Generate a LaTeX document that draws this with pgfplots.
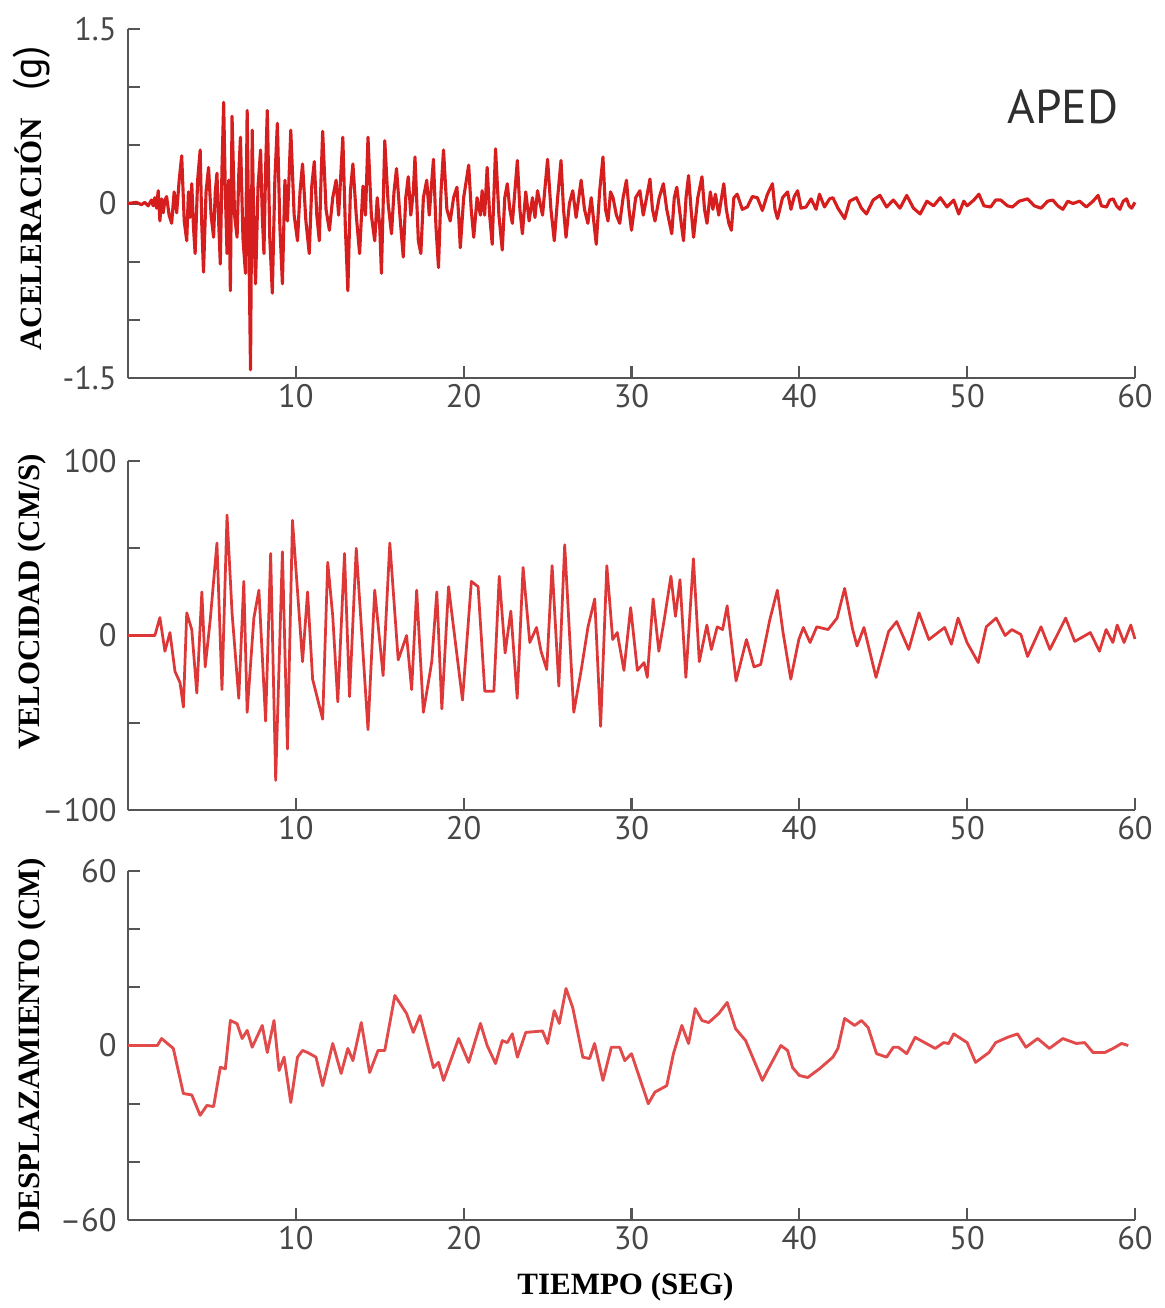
\documentclass[border=0pt]{standalone}
\usepackage{pgfplots}
\pgfplotsset{compat=1.18}
\usepackage{fontspec}
\setmainfont{Liberation Serif}
\setsansfont{PT Sans}
\definecolor{axgray}{RGB}{85,85,85}
\definecolor{trace}{RGB}{215,30,30}
\definecolor{trace2}{RGB}{222,55,55}
\definecolor{trace3}{RGB}{226,75,75}
\pgfplotsset{
  panel/.style={
    scale only axis, width=402.8pt, height=139.6pt,
    anchor=north west,
    xmin=0, xmax=60,
    axis lines=left, axis line style={-, axgray, line width=1pt},
    xtick={10,20,30,40,50,60}, xticklabels={10,20,30,40,50,60},
    tick style={axgray, line width=0.9pt},
    tick align=inside, major tick length=5pt,
    ticklabel style={font=\sffamily\fontsize{13}{14}\selectfont, text=black!72},
    xticklabel style={yshift=1pt},
    yticklabel style={xshift=-1pt},
    clip=false,
  },
}
\begin{document}
\begin{tikzpicture}
\useasboundingbox (-51.2pt,-511.6pt) rectangle (414.8pt,11.6pt);
% ---------------- Acceleration ----------------
\begin{axis}[panel, at={(0pt,0pt)},
  ymin=-1.5, ymax=1.5,
  ytick={-1.5,-1,-0.5,0,0.5,1,1.5}, yticklabels={-1.5,,,0,,,1.5},
  ylabel={\bfseries\fontsize{12.4}{14}\selectfont ACELERACIÓN\hspace{11pt}{\sffamily\mdseries\fontsize{16}{16}\selectfont (g)}},
  ylabel style={at={(axis description cs:-0.0953,0.514)}, anchor=center, rotate=0},
]
\addplot[trace, line width=1.25pt, line join=round] coordinates {
(0,0) (0.5,0.01) (0.8,-0.01) (1.0,0.01) (1.2,-0.02) (1.4,0.03) (1.5,-0.02) (1.6,0.05) (1.7,-0.04)
(1.8,0.11) (1.9,-0.15) (2.0,0.04) (2.1,-0.08) (2.2,0.03) (2.3,0.06) (2.45,-0.10) (2.6,-0.17)
(2.75,0.10) (2.9,-0.08) (3.05,0.20) (3.2,0.41) (3.35,-0.15) (3.5,-0.32) (3.6,0.10) (3.7,-0.12)
(3.8,0.17) (3.9,-0.20) (4.0,-0.43) (4.15,0.20) (4.3,0.46) (4.4,-0.20) (4.5,-0.59) (4.65,0.10)
(4.8,0.31) (4.95,-0.10) (5.1,-0.29) (5.2,0.10) (5.3,0.26) (5.4,-0.15) (5.5,-0.52) (5.6,0.30)
(5.7,0.87) (5.8,0.10) (5.9,-0.43) (6.0,0.20) (6.1,-0.75) (6.2,0.75) (6.35,-0.10) (6.5,-0.29)
(6.6,0.25) (6.7,0.57) (6.85,-0.30) (7.0,-0.60) (7.1,0.80) (7.2,-0.30) (7.3,-1.43) (7.4,0.63)
(7.5,-0.20) (7.6,-0.69) (7.75,0.15) (7.9,0.46) (8.0,-0.10) (8.1,-0.43) (8.2,0.30) (8.3,0.80)
(8.45,-0.30) (8.6,-0.77) (8.75,0.20) (8.9,0.69) (9.05,-0.20) (9.2,-0.69) (9.35,0.20) (9.5,-0.15)
(9.7,0.63) (9.9,-0.10) (10.1,-0.32) (10.25,0.10) (10.4,0.34) (10.6,-0.15) (10.8,-0.43) (10.95,0.15)
(11.1,0.36) (11.25,-0.10) (11.4,-0.32) (11.5,0.20) (11.6,0.62) (11.8,-0.05) (12.0,-0.23) (12.2,0.05)
(12.4,0.20) (12.55,-0.10) (12.8,0.57) (12.95,-0.20) (13.1,-0.75) (13.25,0.10) (13.4,0.34) (13.6,-0.10)
(13.8,-0.43) (14.0,0.15) (14.15,-0.10) (14.3,0.57) (14.5,-0.10) (14.7,-0.32) (14.85,0.05) (15.0,-0.20)
(15.1,-0.60) (15.3,0.54) (15.5,0.00) (15.7,-0.26) (15.85,0.10) (16.0,0.30) (16.2,-0.10) (16.4,-0.46)
(16.55,0.05) (16.7,0.23) (16.85,-0.10) (17.0,0.10) (17.1,0.40) (17.3,-0.32) (17.45,-0.43) (17.6,0.05)
(17.8,0.20) (17.95,-0.10) (18.2,0.38) (18.35,-0.20) (18.5,-0.55) (18.65,0.10) (18.8,0.46) (19.0,-0.05)
(19.2,-0.15) (19.4,0.05) (19.6,0.14) (19.7,-0.10) (19.8,-0.38) (20.0,0.05) (20.3,0.33) (20.45,-0.05)
(20.6,-0.29) (20.8,0.05) (21.0,-0.10) (21.1,0.11) (21.25,-0.10) (21.4,0.31) (21.55,-0.10) (21.7,-0.35)
(21.9,0.47) (22.1,-0.10) (22.3,-0.40) (22.45,0.05) (22.6,0.17) (22.75,-0.05) (22.9,-0.17) (23.05,0.10)
(23.2,0.37) (23.35,-0.05) (23.5,-0.26) (23.7,0.10) (23.9,-0.15) (24.1,0.05) (24.25,-0.12) (24.4,0.11)
(24.7,-0.10) (25.0,0.38) (25.2,-0.05) (25.4,-0.32) (25.6,0.05) (25.8,0.37) (25.95,-0.05) (26.1,-0.29)
(26.3,0.00) (26.5,0.11) (26.7,-0.12) (27.0,0.20) (27.2,-0.05) (27.4,-0.17) (27.6,0.05) (27.9,-0.35)
(28.1,0.10) (28.3,0.40) (28.45,-0.05) (28.6,-0.15) (28.75,0.10) (28.9,0.05) (29.1,-0.10) (29.3,-0.17)
(29.5,0.05) (29.7,0.20) (29.85,-0.05) (30.0,-0.23) (30.25,0.05) (30.5,0.11) (30.7,-0.10) (30.9,0.05)
(31.1,0.21) (31.25,-0.05) (31.4,-0.15) (31.65,0.05) (31.9,0.17) (32.1,-0.05) (32.4,-0.26) (32.55,0.05)
(32.7,0.14) (32.9,-0.10) (33.1,-0.32) (33.25,0.05) (33.4,0.24) (33.55,-0.05) (33.7,-0.29) (33.95,0.05)
(34.2,0.23) (34.35,-0.05) (34.5,-0.17) (34.7,0.10) (34.85,-0.05) (35.0,0.08) (35.2,-0.10) (35.5,0.17)
(35.65,-0.05) (35.8,-0.17) (35.95,-0.23) (36.1,0.05) (36.3,0.08) (36.6,-0.05) (36.9,-0.03) (37.2,0.06)
(37.5,0.05) (37.8,-0.06) (38.1,0.08) (38.4,0.17) (38.55,-0.05) (38.7,-0.13) (39.0,0.05) (39.3,0.10)
(39.5,-0.05) (39.7,0.06) (39.9,0.11) (40.1,-0.04) (40.4,-0.03) (40.7,0.04) (41.0,-0.05) (41.2,0.08)
(41.5,-0.03) (41.8,0.04) (42.0,0.05) (42.3,-0.04) (42.7,-0.13) (43.0,0.02) (43.4,0.05) (43.7,-0.04)
(44.0,-0.09) (44.4,0.03) (44.8,0.07) (45.2,-0.03) (45.6,0.03) (46.0,-0.04) (46.4,0.07) (46.8,-0.04)
(47.2,-0.09) (47.6,0.02) (48.0,-0.02) (48.4,0.05) (48.8,-0.03) (49.2,0.03) (49.5,-0.09) (49.8,0.02)
(50.0,-0.02) (50.4,0.03) (50.7,0.08) (51.0,-0.02) (51.4,-0.03) (51.7,0.03) (52.0,0.03) (52.4,-0.02)
(52.7,-0.03) (53.1,0.02) (53.6,0.04) (54.0,-0.02) (54.4,-0.04) (54.8,0.02) (55.1,0.03) (55.4,-0.02)
(55.7,-0.05) (56.0,0.02) (56.3,0.00) (56.7,0.02) (57.1,-0.03) (57.5,0.02) (57.8,0.07) (58.0,-0.02)
(58.3,-0.03) (58.5,0.03) (58.7,0.04) (58.9,-0.02) (59.1,-0.05) (59.3,0.02) (59.5,0.04) (59.65,-0.02)
(59.8,-0.04) (60.0,0.01)
};
\node[font=\sffamily\fontsize{19}{20}\selectfont, text=black!82] at (axis cs:55.7,0.83) {APED};
\end{axis}
% ---------------- Velocity ----------------
\begin{axis}[panel, at={(0pt,-172.8pt)},
  ymin=-100, ymax=100,
  ytick={-100,-50,0,50,100}, yticklabels={–100,,0,,100},
  ylabel={\bfseries\fontsize{12.4}{14}\selectfont VELOCIDAD (CM/S)},
  ylabel style={at={(axis description cs:-0.0953,0.596)}, anchor=center},
]
\addplot[trace2, line width=1.1pt, line join=round] coordinates {
(0,0) (1.6,0) (1.9,10.3) (2.2,-9) (2.5,1.7) (2.8,-20.6) (3.1,-27) (3.3,-41) (3.5,13) (3.8,3.4)
(4.1,-33) (4.4,25) (4.6,-18) (4.9,9) (5.3,53) (5.6,-31) (5.9,69) (6.2,13) (6.6,-36) (6.9,31)
(7.1,-44) (7.5,10) (7.8,26) (8.2,-49) (8.5,47) (8.8,-83) (9.2,48) (9.5,-65) (9.8,66) (10.4,-15)
(10.7,25) (11.0,-25) (11.6,-48) (11.9,42) (12.2,11) (12.5,-38) (12.9,47) (13.2,-35) (13.6,50)
(14.3,-54) (14.7,26) (15.2,-23) (15.6,53) (16.1,-14) (16.6,0) (16.9,-31) (17.2,26) (17.6,-44)
(18.1,-15) (18.4,25) (18.7,-42) (19.1,28) (19.93,-37) (20.46,31) (20.86,28) (21.26,-32) (21.80,-32)
(22.12,34) (22.47,-10) (22.81,14) (23.19,-36) (23.54,39) (23.94,-4) (24.34,4.6) (24.61,-9)
(24.95,-19.5) (25.27,40) (25.67,-29) (26.02,52) (26.56,-44) (27.01,-19.5) (27.41,5) (27.81,21)
(28.16,-52) (28.53,40) (28.88,-2.3) (29.15,1.7) (29.55,-20) (29.95,16) (30.35,-20) (30.75,-15.5)
(30.94,-24) (31.29,21) (31.63,-9) (31.95,9) (32.35,34) (32.62,11) (32.89,32) (33.24,-24) (33.69,44)
(34.04,-15) (34.49,6) (34.76,-8) (35.11,5) (35.43,3.4) (35.70,17) (36.23,-26) (36.85,-2.3) (37.30,-18)
(37.70,-16.6) (38.24,9) (38.69,26) (39.03,1.7) (39.49,-25) (39.97,-2.3) (40.24,4.6) (40.64,-4)
(41.04,5) (41.71,3.4) (42.25,10) (42.70,27) (43.18,3.4) (43.44,-6) (43.85,4.6) (44.57,-24) (45.32,2.3)
(45.80,8) (46.52,-8) (47.13,13) (47.72,-2.3) (48.66,4.6) (49.06,-5) (49.46,10) (49.99,-4) (50.66,-15.5)
(51.14,5) (51.73,10) (52.26,0) (52.66,3.4) (53.20,0.6) (53.60,-12) (54.40,5) (54.93,-8) (55.87,10)
(56.41,-3.4) (57.34,1.7) (57.88,-9) (58.28,3.4) (58.68,-4) (58.94,6) (59.35,-4) (59.75,6) (60.0,-2)
};
\end{axis}
% ---------------- Displacement ----------------
\begin{axis}[panel, at={(0pt,-336.8pt)},
  ymin=-60, ymax=60,
  ytick={-60,-40,-20,0,20,40,60}, yticklabels={–60,,,0,,,60},
  ylabel={\bfseries\fontsize{12.4}{14}\selectfont DESPLAZAMIENTO (CM)},
  ylabel style={at={(axis description cs:-0.0953,0.5)}, anchor=center},
  xlabel={\bfseries\fontsize{12.4}{14}\selectfont TIEMPO (SEG)},
  xlabel style={at={(axis description cs:0.494,0)}, yshift=-26.8pt, anchor=center},
]
\addplot[trace3, line width=1.15pt, line join=round] coordinates {
(0,0) (1.75,0) (2.0,2.4) (2.7,-1) (3.3,-16.5) (3.8,-17) (4.3,-24) (4.7,-20.6) (5.1,-21) (5.5,-7.5)
(5.8,-8) (6.1,8.6) (6.5,7.5) (6.8,2.4) (7.1,5.2) (7.4,-0.6) (8.0,6.9) (8.3,-2.4) (8.7,8.6) (9.0,-8.6)
(9.3,-4) (9.7,-19.6) (10.1,-4) (10.4,-1.7) (10.7,-2.4) (11.2,-4) (11.6,-13.8) (12.2,0.7) (12.7,-9.6)
(13.1,-1) (13.4,-5.2) (13.9,7.9) (14.4,-9.3) (14.9,-1.7) (15.3,-1.7) (15.9,17.2) (16.6,11) (17.0,4.5)
(17.4,10.3) (18.2,-7.6) (18.5,-5.8) (18.8,-12) (19.7,2.4) (20.3,-5.8) (21.0,7.6) (21.4,0) (21.9,-6.2)
(22.3,1.7) (22.6,1) (22.9,4) (23.2,-4) (23.7,4.5) (24.7,5) (25.0,0.7) (25.4,12) (25.7,7.6) (26.1,19.6)
(26.5,13) (27.1,-4) (27.5,-4.5) (27.8,0.7) (28.3,-12) (28.8,-0.6) (29.3,-0.6) (29.6,-5.2) (30.0,-2.8)
(31.0,-20) (31.4,-16) (32.1,-13.8) (32.5,-2.8) (33.0,6.9) (33.4,0.7) (33.8,12.7) (34.2,8.6) (34.6,7.9)
(35.2,11) (35.7,14.8) (36.2,5.8) (36.8,1.7) (37.8,-12) (38.1,-8.6) (38.9,0) (39.3,-1.7) (39.6,-7.6)
(40.0,-10.3) (40.5,-11) (41.2,-8) (42.0,-4) (42.3,-1) (42.7,9.3) (43.3,6.9) (43.7,8.6) (44.1,6.2)
(44.6,-2.8) (45.2,-4) (45.6,-0.6) (45.9,-0.6) (46.4,-2.8) (46.9,2.8) (48.1,-1) (48.6,1) (48.9,0.7)
(49.2,4) (50.0,1) (50.5,-5.8) (51.3,-2.4) (51.7,1) (52.4,2.8) (53.0,4) (53.5,-0.6) (54.2,2.4)
(54.9,-1) (55.7,2.4) (56.5,0.7) (57.0,1) (57.5,-2.4) (58.2,-2.4) (58.7,-1) (59.2,0.7) (59.6,0)
};
\end{axis}
\end{tikzpicture}
\end{document}
